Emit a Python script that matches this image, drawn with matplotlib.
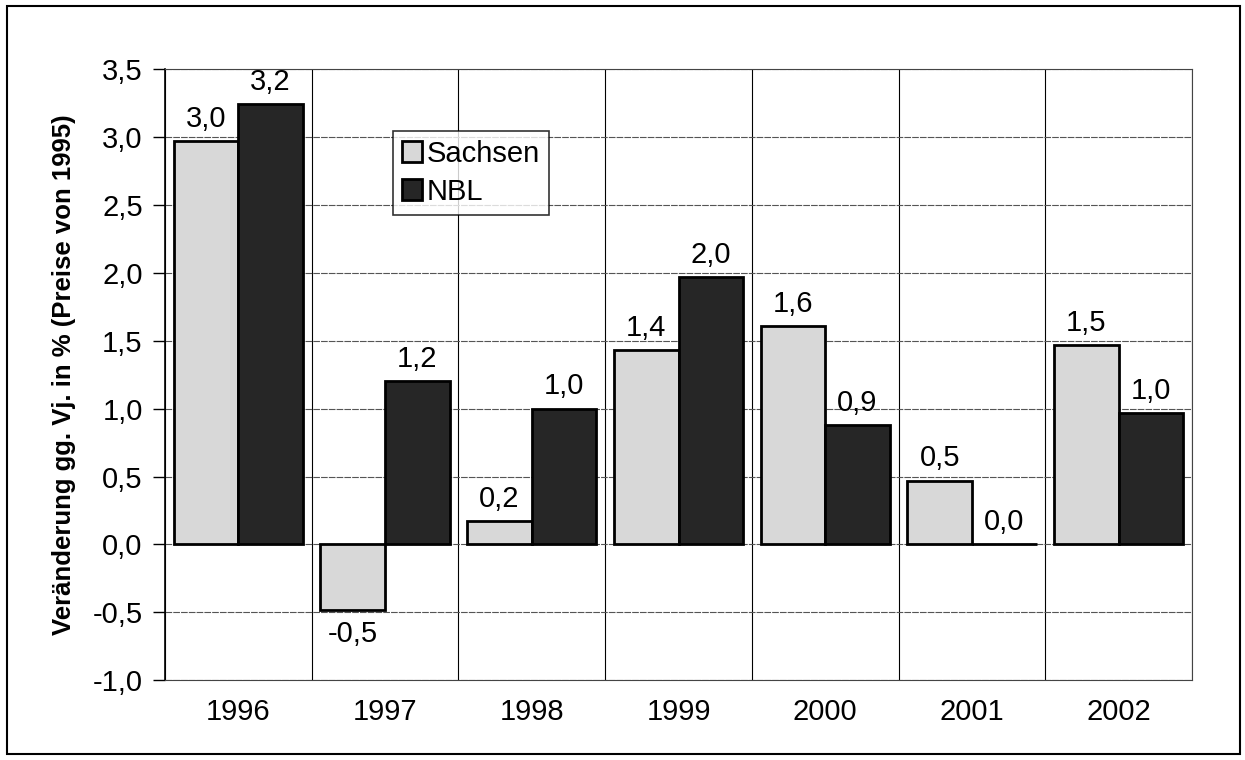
import numpy as np
import matplotlib.pyplot as plt
from matplotlib.patches import Rectangle
from matplotlib.ticker import FixedLocator

years = ['1996', '1997', '1998', '1999', '2000', '2001', '2002']
sachsen = [2.97, -0.48, 0.17, 1.43, 1.61, 0.47, 1.47]
nbl = [3.24, 1.20, 1.00, 1.97, 0.88, 0.0, 0.97]
sachsen_lbl = ['3,0', '-0,5', '0,2', '1,4', '1,6', '0,5', '1,5']
nbl_lbl = ['3,2', '1,2', '1,0', '2,0', '0,9', '0,0', '1,0']

plt.rcParams['font.family'] = ['Liberation Sans', 'DejaVu Sans']

fig = plt.figure(figsize=(12.45, 7.6), dpi=100)
ax = fig.add_axes([0.1325, 0.105, 0.825, 0.804])

x = np.arange(len(years))
w = 0.44
ax.bar(x - w / 2, sachsen, w, color='#d8d8d8', edgecolor='black', linewidth=2, label='Sachsen', zorder=3)
ax.bar(x + w / 2, nbl, w, color='#262626', edgecolor='black', linewidth=2, label='NBL', zorder=3)

fs = 21
for xi, v, t in zip(x, sachsen, sachsen_lbl):
    if v >= 0:
        ax.text(xi - w / 2, v + 0.06, t, ha='center', va='bottom', fontsize=fs)
    else:
        ax.text(xi - w / 2, v - 0.08, t, ha='center', va='top', fontsize=fs)
for xi, v, t in zip(x, nbl, nbl_lbl):
    ax.text(xi + w / 2, v + 0.06, t, ha='center', va='bottom', fontsize=fs)

ax.set_xlim(-0.5, len(years) - 0.5)
ax.set_ylim(-1.0, 3.5)
yt = np.arange(-1.0, 3.51, 0.5)
ax.set_yticks(yt)
ax.set_yticklabels([('%.1f' % v).replace('.', ',') for v in yt], fontsize=fs)
ax.set_xticks(x)
ax.set_xticklabels(years, fontsize=fs)
ax.tick_params(axis='x', length=0, pad=13)
ax.tick_params(axis='y', length=9, width=1, direction='out', pad=7)
ax.xaxis.set_minor_locator(FixedLocator(np.arange(-0.5, len(years), 1.0)))
ax.tick_params(axis='x', which='minor', length=0)
ax.grid(axis='y', color='#555555', linewidth=0.8, linestyle=(0, (6, 1)), zorder=0)
ax.grid(axis='x', which='minor', color='black', linewidth=0.8, zorder=0)
for s in ax.spines.values():
    s.set_linewidth(0.8)
    s.set_color('#444444')
ax.spines['left'].set_color('black')
ax.spines['left'].set_linewidth(1.2)

ax.set_ylabel('Veränderung gg. Vj. in % (Preise von 1995)', fontsize=18.5, fontweight='bold', labelpad=12)

leg = ax.legend(loc='upper left', bbox_to_anchor=(0.222, 0.899), fontsize=fs, frameon=True,
                fancybox=False, edgecolor='black', handlelength=0.7, handleheight=0.7,
                handletextpad=0.15, borderpad=0.3, labelspacing=0.35, borderaxespad=0)
leg.get_frame().set_linewidth(1.2)

fig.patches.append(Rectangle((0.006, 0.008), 0.99, 0.984, transform=fig.transFigure,
                             fill=False, edgecolor='black', linewidth=1.5))

plt.savefig('out.png', dpi=100)
